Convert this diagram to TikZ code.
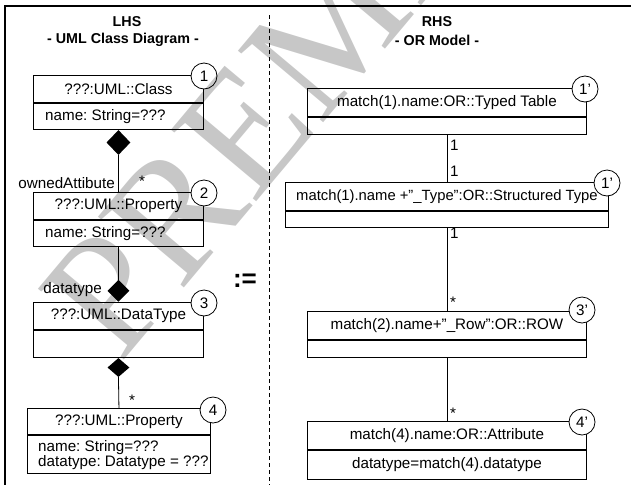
\documentclass[tikz,border=0pt]{standalone}
\usepackage{fontspec}
\setmainfont{Liberation Sans}
\newfontfamily\wmfont{Liberation Serif}
\usetikzlibrary{shapes.geometric}
\frenchspacing

\begin{document}
\begin{tikzpicture}[x=1pt,y=-1pt,
  every node/.style={font=\fontsize{15.2}{12.5}\selectfont},
  head/.style={draw, line width=0.9pt, inner sep=0pt, anchor=north west, align=center},
  body/.style={draw, line width=0.9pt, inner sep=0pt, anchor=north},
  attr/.style={inner sep=0pt, anchor=west, align=left},
  tag/.style={circle, draw, fill=white, line width=0.8pt, minimum size=26pt, inner sep=0pt},
  comp/.style={diamond, fill=black, inner sep=0pt},
  mult/.style={inner sep=0pt},
  title/.style={font=\bfseries\fontsize{14.3}{16}\selectfont, inner sep=0pt},
  link/.style={line width=0.8pt}
]
\useasboundingbox (0,0) rectangle (631,485);

% frame and divider
\draw[line width=1.2pt] (631,6) -- (5,6) -- (5,485);
\draw[line width=0.8pt, dash pattern=on 4pt off 3pt] (269,15) -- (269,485);

% titles
\node[title] (lhs) at (127,22) {LHS};
\node[title] (lhs2) at (123,40) {- UML Class Diagram -};
\node[title] (rhs) at (437,22) {RHS};
\node[title] (rhs2) at (437,40) {- OR Model -};

% ---------- left hand side ----------
\node[head, minimum width=170pt, minimum height=27pt] (c1h) at (33,75) {???:UML::Class};
\node[body, minimum width=170pt, minimum height=26pt] (c1b) at (c1h.south) {};
\node[attr] (c1a) at ([xshift=12pt]c1b.west) {name: String=???};

\node[head, minimum width=170pt, minimum height=27pt] (c2h) at (33,192) {???:UML::Property};
\node[body, minimum width=170pt, minimum height=26pt] (c2b) at (c2h.south) {};
\node[attr] (c2a) at ([xshift=12pt]c2b.west) {name: String=???};

\node[head, minimum width=170pt, minimum height=27pt] (c3h) at (33,302) {???:UML::DataType};
\node[body, minimum width=170pt, minimum height=27pt] (c3b) at (c3h.south) {};

\node[head, minimum width=183pt, minimum height=26pt] (c4h) at (27,408) {???:UML::Property};
\node[body, minimum width=183pt, minimum height=38pt] (c4b) at (c4h.south) {};
\node[attr] (c4a) at ([xshift=11pt,yshift=-1pt]c4b.west) {name: String=???\\datatype: Datatype = ???};

% compositions
\node[comp, minimum width=24pt, minimum height=25pt, anchor=north] (d1) at (c1b.south) {};
\draw[link] (d1.south) -- (c2h.north);
\node[comp, minimum width=22pt, minimum height=22pt, anchor=south] (d2) at (c3h.north) {};
\draw[link] (c2b.south) -- (d2.north);
\node[comp, minimum width=22pt, minimum height=19pt, anchor=north] (d3) at (c3b.south) {};
\draw[link] (d3.south) -- (c4h.north);

\node[mult, anchor=east] (l1) at (115,183) {ownedAttibute};
\node[mult] (l2) at (142,181) {*};
\node[mult, anchor=east] (l3) at (102,290) {datatype};
\node[mult] (l4) at (132,400) {*};

% ---------- right hand side ----------
\node[head, minimum width=279pt, minimum height=28pt] (r1h) at (307,88) {match(1).name:OR::Typed Table};
\node[body, minimum width=279pt, minimum height=17pt] (r1b) at (r1h.south) {};

\node[head, minimum width=323pt, minimum height=28pt, font=\fontsize{14.8}{12.5}\selectfont] (r2h) at (285,182) {match(1).name +''\_Type'':OR::Structured Type};
\node[body, minimum width=323pt, minimum height=16pt] (r2b) at (r2h.south) {};

\node[head, minimum width=279pt, minimum height=28pt] (r3h) at (307,311) {match(2).name+''\_Row'':OR::ROW};
\node[body, minimum width=279pt, minimum height=17pt] (r3b) at (r3h.south) {};

\node[head, minimum width=279pt, minimum height=28pt] (r4h) at (307,421) {match(4).name:OR::Attribute};
\node[body, minimum width=279pt, minimum height=29pt] (r4b) at (r4h.south) {datatype=match(4).datatype};

\draw[link] (r1b.south) -- (r2h.north);
\draw[link] (r2b.south) -- (r3h.north);
\draw[link] (r3b.south) -- (r4h.north);

\node[mult, anchor=west] (m1) at (450,145) {1};
\node[mult, anchor=west] (m2) at (450,171) {1};
\node[mult, anchor=west] (m3) at (450,233) {1};
\node[mult, anchor=west] (m4) at (450,302) {*};
\node[mult, anchor=west] (m5) at (450,413) {*};

% numbered tags
\node[tag] (t1) at (204,76) {1};
\node[tag] (t2) at (204,193) {2};
\node[tag] (t3) at (204,303) {3};
\node[tag] (t4) at (213,410) {4};
\node[tag] (u1) at (585,89) {1'};
\node[tag] (u2) at (607,183) {1'};
\node[tag] (u3) at (582,310) {3'};
\node[tag] (u4) at (582,422) {4'};

% assignment sign
\node[font=\bfseries\fontsize{26}{26}\selectfont, inner sep=0pt] (assign) at (245,281) {:=};

% watermark
\begin{scope}
\clip (0,0) rectangle (631,485);
\node[font=\wmfont\fontsize{170}{170}\selectfont, text=black, text opacity=0.22, rotate=50, anchor=base west, inner sep=0pt] (wm) at (120,365) {PREMIUM};
\end{scope}
\end{tikzpicture}
\end{document}
